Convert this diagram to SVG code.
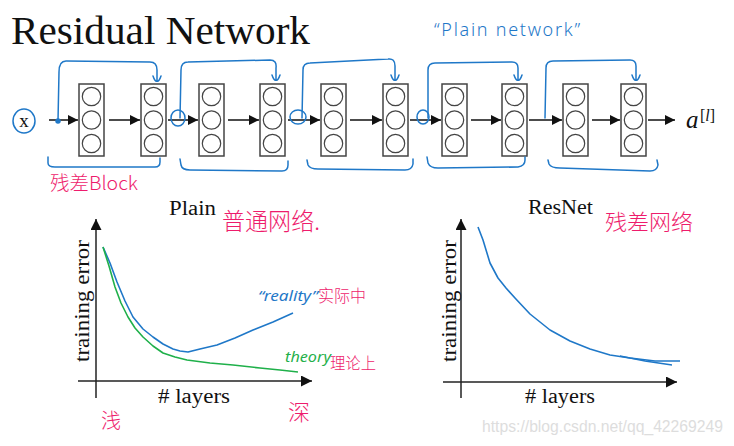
<svg xmlns="http://www.w3.org/2000/svg" width="734" height="446" viewBox="0 0 734 446">
<defs>
<marker id="ah" viewBox="0 0 10 10" refX="10" refY="5" markerWidth="10" markerHeight="10" markerUnits="userSpaceOnUse" orient="auto"><path d="M0,0 L10,5 L0,10 z" fill="#111"/></marker>
<marker id="axh" viewBox="0 0 10 10" refX="10" refY="5" markerWidth="11" markerHeight="11" markerUnits="userSpaceOnUse" orient="auto"><path d="M0,0 L10,5 L0,10 z" fill="#111"/></marker>
<g id="layer">
<rect x="0" y="0" width="25" height="72" fill="#fff" stroke="#444" stroke-width="1.5"/>
<circle cx="12.5" cy="12.5" r="9.2" fill="none" stroke="#444" stroke-width="1.2"/>
<circle cx="12.5" cy="36" r="9.2" fill="none" stroke="#444" stroke-width="1.2"/>
<circle cx="12.5" cy="59.5" r="9.2" fill="none" stroke="#444" stroke-width="1.2"/>
</g>
</defs>
<style>
.serif{font-family:"Liberation Serif","DejaVu Serif",serif;fill:#111}
.pink{font-family:"Noto Sans CJK SC","Noto Sans",sans-serif;fill:#ee1c6c;font-weight:300}
.bluet{font-family:"Noto Sans","DejaVu Sans",sans-serif;fill:#1f78c8;font-style:italic}
.greent{font-family:"Noto Sans","DejaVu Sans",sans-serif;fill:#1fb04a;font-style:italic}
.arr{stroke:#111;stroke-width:1.5;fill:none;marker-end:url(#ah)}
.ax{stroke:#222;stroke-width:1.5;fill:none}
.skip{stroke:#1f78c8;stroke-width:1.5;fill:none;stroke-linecap:round;stroke-linejoin:round}
</style>
<rect width="734" height="446" fill="#fff"/>
<text class="serif" x="11" y="44" font-size="39" textLength="299" lengthAdjust="spacingAndGlyphs">Residual Network</text>

<g id="input-x">
<ellipse cx="24" cy="121" rx="11" ry="12" fill="none" stroke="#1f78c8" stroke-width="1.5"/>
<text class="serif" x="24" y="127" font-size="19" text-anchor="middle">x</text>
</g>
<g id="layer1"><use href="#layer" x="79" y="84"/></g>
<g id="layer2"><use href="#layer" x="141" y="84"/></g>
<g id="layer3"><use href="#layer" x="199" y="84"/></g>
<g id="layer4"><use href="#layer" x="260" y="84"/></g>
<g id="layer5"><use href="#layer" x="321" y="84"/></g>
<g id="layer6"><use href="#layer" x="383" y="84"/></g>
<g id="layer7"><use href="#layer" x="442" y="84"/></g>
<g id="layer8"><use href="#layer" x="502" y="84"/></g>
<g id="layer9"><use href="#layer" x="563" y="84"/></g>
<g id="layer10"><use href="#layer" x="621" y="84"/></g>
<g id="output-a">
<text class="serif" x="686" y="128" font-size="25" font-style="italic">a</text>
<text class="serif" x="700" y="121" font-size="16"><tspan>[</tspan><tspan font-style="italic">l</tspan><tspan>]</tspan></text>
</g>

<g id="connectors">
<line class="arr" x1="49" y1="120" x2="78" y2="120"/>
<line class="arr" x1="109" y1="120" x2="140" y2="120"/>
<line class="arr" x1="168" y1="120" x2="198" y2="120"/>
<line class="arr" x1="228" y1="120" x2="259" y2="120"/>
<line class="arr" x1="288" y1="120" x2="320" y2="120"/>
<line class="arr" x1="350" y1="120" x2="382" y2="120"/>
<line class="arr" x1="410" y1="120" x2="441" y2="120"/>
<line class="arr" x1="471" y1="120" x2="501" y2="120"/>
<line class="arr" x1="529" y1="120" x2="562" y2="120"/>
<line class="arr" x1="592" y1="120" x2="620" y2="120"/>
<line class="arr" x1="648" y1="120" x2="675" y2="120"/>

<g class="skip">
<circle cx="58" cy="121" r="2" fill="#1f78c8"/>
<path d="M58,121 L59,72 Q59,61 66,61 L150,62 Q157,62 157,70 L157,81 M153,76 Q155,82 157,81 Q159,82 161,76"/>
<ellipse cx="178" cy="118" rx="7" ry="8"/>
<path d="M180,118 L181,70 Q181,62 188,62 L270,60 Q277,60 276,68 L276,80 M272,75 Q274,81 276,80 Q278,81 280,75"/>
<ellipse cx="298" cy="117" rx="8" ry="7"/>
<path d="M302,118 L303,70 Q303,63 310,63 L388,59 Q395,58 395,66 L395,80 M391,75 Q393,81 395,80 Q397,81 399,75"/>
<ellipse cx="423" cy="117" rx="6" ry="7"/>
<path d="M428,118 L428,70 Q428,63 435,63 L512,62 Q518,62 518,68 L518,80 M514,75 Q516,81 518,80 Q520,81 522,75"/>
<path d="M545,118 L546,68 Q546,61 553,61 L630,60 Q636,60 636,66 L636,80 M632,75 Q634,81 636,80 Q638,81 640,75"/>
<path d="M48,157 L48,163 Q48,167 55,167 L155,167 Q160,167 160,162 L160,158"/>
<path d="M180,159 L181,165 Q182,170 190,170 L282,171 Q288,171 288,165 L288,161"/>
<path d="M307,160 L308,165 Q310,169 318,169 L405,170 Q412,170 413,164 L413,159"/>
<path d="M427,157 L428,163 Q430,168 438,168 L518,167 Q525,166 525,160 L525,157"/>
<path d="M548,160 L549,164 Q551,168 560,168 L650,171 Q657,171 658,165 L657,160"/>
</g>
</g>

<text class="pink" x="50" y="190" font-size="19" textLength="88" lengthAdjust="spacingAndGlyphs">残差Block</text>
<text x="434" y="36" font-family="Noto Sans, DejaVu Sans, sans-serif" font-size="18" font-weight="300" fill="#1f78c8" textLength="146" lengthAdjust="spacing">“Plain   network”</text>

<!-- Plain plot -->
<text class="serif" x="169" y="215" font-size="20" textLength="47" lengthAdjust="spacingAndGlyphs">Plain</text>
<text class="pink" x="222" y="230" font-size="24" textLength="98" lengthAdjust="spacingAndGlyphs">普通网络.</text>
<line class="ax" x1="96" y1="398" x2="96" y2="219" marker-end="url(#axh)"/>
<line class="ax" x1="78" y1="381" x2="312" y2="381" marker-end="url(#axh)"/>
<text class="serif" transform="translate(89,301) rotate(-90)" font-size="20" text-anchor="middle" textLength="122" lengthAdjust="spacingAndGlyphs">training error</text>
<text class="serif" x="158" y="403" font-size="20" textLength="72" lengthAdjust="spacingAndGlyphs"># layers</text>
<polyline points="103,247 110,263 117,282 125,301 133,317 143,329 153,337 163,344 173,349 180,351 188,352 200,349 217,345 235,338 253,330 273,322 293,313" fill="none" stroke="#1f78c8" stroke-width="1.6" stroke-linejoin="round"/>
<polyline points="103,247 109,266 115,287 121,303 128,317 135,328 143,337 153,346 163,353 175,357 187,360 210,363 233,365 260,368 280,370 298,372" fill="none" stroke="#1fb04a" stroke-width="1.6" stroke-linejoin="round"/>
<text class="bluet" x="258" y="301" font-size="15" textLength="60" lengthAdjust="spacingAndGlyphs">“reality”</text>
<text class="pink" x="318" y="302" font-size="17" textLength="48" lengthAdjust="spacingAndGlyphs">实际中</text>
<text class="greent" x="285" y="362" font-size="15" textLength="46" lengthAdjust="spacingAndGlyphs">theory</text>
<text class="pink" x="330" y="369" font-size="16" textLength="46" lengthAdjust="spacingAndGlyphs">理论上</text>
<text class="pink" x="101" y="428" font-size="20">浅</text>
<text class="pink" x="288" y="420" font-size="22">深</text>

<!-- ResNet plot -->
<text class="serif" x="528" y="214" font-size="20" textLength="65" lengthAdjust="spacingAndGlyphs">ResNet</text>
<text class="pink" x="605" y="230" font-size="22" textLength="88" lengthAdjust="spacingAndGlyphs">残差网络</text>
<line class="ax" x1="461" y1="398" x2="461" y2="219" marker-end="url(#axh)"/>
<line class="ax" x1="443" y1="382" x2="677" y2="382" marker-end="url(#axh)"/>
<text class="serif" transform="translate(456,301) rotate(-90)" font-size="20" text-anchor="middle" textLength="122" lengthAdjust="spacingAndGlyphs">training error</text>
<text class="serif" x="525" y="403" font-size="20" textLength="70" lengthAdjust="spacingAndGlyphs"># layers</text>
<polyline points="478,227 483,240 490,263 498,278 506,288 515,298 530,314 550,330 570,341 590,349 610,355 630,358 655,361 680,361" fill="none" stroke="#1f78c8" stroke-width="1.6" stroke-linejoin="round"/>
<polyline points="620,356 645,361 672,365" fill="none" stroke="#1f78c8" stroke-width="1.3"/>

<text x="482" y="432" font-family="Liberation Sans, Arial, sans-serif" font-size="16" fill="#dddddd" textLength="241" lengthAdjust="spacingAndGlyphs">https://blog.csdn.net/qq_42269249</text>
</svg>
